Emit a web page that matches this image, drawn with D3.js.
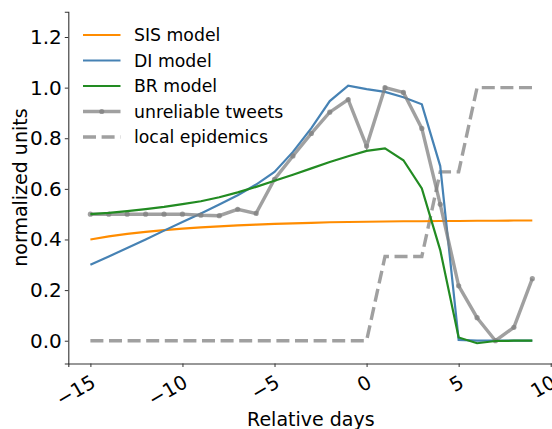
<!DOCTYPE html>
<html>
<head>
<meta charset="utf-8">
<script src="https://cdn.jsdelivr.net/npm/d3@7"></script>
<style>
  body { margin: 0; background: #fff; }
  text { font-family: "DejaVu Sans", sans-serif; fill: #000; }
</style>
</head>
<body>
<svg id="chart" width="552" height="429"></svg>
<script>
// relative days
var days = [-15,-14,-13,-12,-11,-10,-9,-8,-7,-6,-5,-4,-3,-2,-1,0,1,2,3,4,5,6,7,8,9];

var sisModel = [0.400,0.412,0.422,0.430,0.437,0.443,0.448,0.452,0.456,0.459,0.462,0.464,0.466,0.468,0.469,0.470,0.471,0.472,0.472,0.473,0.473,0.474,0.474,0.475,0.475];
var diModel = [0.300,0.333,0.366,0.400,0.435,0.469,0.503,0.538,0.575,0.617,0.667,0.746,0.840,0.947,1.008,0.994,0.983,0.962,0.934,0.690,0.003,0.000,0.000,0.000,0.000];
var brModel = [0.500,0.505,0.512,0.520,0.529,0.540,0.551,0.567,0.586,0.608,0.632,0.656,0.681,0.706,0.729,0.750,0.760,0.713,0.602,0.358,0.013,-0.010,-0.001,0.000,0.000];
var tweets = [0.500,0.500,0.500,0.500,0.500,0.500,0.496,0.494,0.519,0.503,0.638,0.730,0.819,0.903,0.953,0.769,1.000,0.981,0.839,0.539,0.217,0.091,0.000,0.053,0.245];
var epidemics = [0,0,0,0,0,0,0,0,0,0,0,0,0,0,0,0,0.333,0.333,0.333,0.667,0.667,1,1,1,1];

var xTicks = [-15,-10,-5,0,5,10];
var yTicks = [0.0,0.2,0.4,0.6,0.8,1.0,1.2];

var svg = d3.select("#chart");
var mLeft = 68.3, mRight = 554.4, mTop = 11.7, mBottom = 363.5;

var x = d3.scaleLinear().domain([-16.2, 10.2]).range([mLeft, mRight]);
var y = d3.scaleLinear().domain([-0.09, 1.3]).range([mBottom, mTop]);

function series(vals){
	return days.map(function(d, i){ return {x: d, y: vals[i]}; });
}
var line = d3.line().x(function(d){ return x(d.x); }).y(function(d){ return y(d.y); });

// axes
var xAxis = svg.append("g").attr("transform", "translate(0," + mBottom + ")")
	.call(d3.axisBottom(x).tickValues(xTicks).tickSize(3.5).tickFormat(function(d){ return d3.format("")(d).replace("-", "\u2212"); }));
xAxis.selectAll("text")
	.attr("font-size", "19.5px")
	.attr("text-anchor", "end")
	.attr("y", 0).attr("dy", "0.72em")
	.attr("transform", "translate(-1,10.5) rotate(-30)");

var yAxis = svg.append("g").attr("transform", "translate(" + mLeft + ",0)")
	.call(d3.axisLeft(y).tickValues(yTicks).tickSize(3.5).tickFormat(d3.format(".1f")));
yAxis.selectAll("text").attr("font-size", "20px").attr("x", -6.5);

svg.selectAll(".domain").attr("stroke", "#333").attr("stroke-width", 1.1);
svg.selectAll(".tick line").attr("stroke", "#333");

svg.append("text").attr("x", (mLeft + mRight) / 2 - 0.5).attr("y", 426)
	.attr("text-anchor", "middle").attr("font-size", "19px").text("Relative days");
svg.append("text").attr("transform", "translate(27," + ((mTop + mBottom) / 2) + ") rotate(-90)")
	.attr("text-anchor", "middle").attr("font-size", "19px").text("normalized units");

// lines
var plot = svg.append("g");
plot.append("path").datum(series(epidemics)).attr("d", line)
	.attr("fill", "none").attr("stroke", "#a0a0a0").attr("stroke-width", 3.4).attr("stroke-dasharray", "13,5.6");
plot.append("path").datum(series(sisModel)).attr("d", line)
	.attr("fill", "none").attr("stroke", "#ff8c00").attr("stroke-width", 2.2);
plot.append("path").datum(series(diModel)).attr("d", line)
	.attr("fill", "none").attr("stroke", "#4682b4").attr("stroke-width", 2.2);
plot.append("path").datum(series(tweets)).attr("d", line)
	.attr("fill", "none").attr("stroke", "#808080").attr("stroke-opacity", 0.75).attr("stroke-width", 3.4);
plot.selectAll(".dot").data(series(tweets)).enter().append("circle")
	.attr("cx", function(d){ return x(d.x); }).attr("cy", function(d){ return y(d.y); })
	.attr("r", 2.6).attr("fill", "#808080").attr("fill-opacity", 0.75);
plot.append("path").datum(series(brModel)).attr("d", line)
	.attr("fill", "none").attr("stroke", "#228b22").attr("stroke-width", 2.2);

// legend
var legendItems = [
	{name: "SIS model", color: "#ff8c00", w: 2.2},
	{name: "DI model", color: "#4682b4", w: 2.2},
	{name: "BR model", color: "#228b22", w: 2.2},
	{name: "unreliable tweets", color: "#808080", w: 3.4, op: 0.75, marker: true},
	{name: "local epidemics", color: "#a0a0a0", w: 3.4, dash: "13,5.6"}
];
var lg = svg.append("g").selectAll("g").data(legendItems).enter().append("g")
	.attr("transform", function(d, i){ return "translate(83," + (35 + i * 25.5) + ")"; });
lg.append("line").attr("x1", 0).attr("x2", 37.5).attr("y1", 0).attr("y2", 0)
	.attr("stroke", function(d){ return d.color; }).attr("stroke-width", function(d){ return d.w; })
	.attr("stroke-opacity", function(d){ return d.op || 1; })
	.attr("stroke-dasharray", function(d){ return d.dash || null; });
lg.filter(function(d){ return d.marker; }).append("circle").attr("cx", 18.75).attr("cy", 0).attr("r", 2.6)
	.attr("fill", "#808080").attr("fill-opacity", 0.75);
lg.append("text").attr("x", 51).attr("y", 0).attr("dy", "0.35em").attr("font-size", "17.3px")
	.text(function(d){ return d.name; });
</script>
</body>
</html>
